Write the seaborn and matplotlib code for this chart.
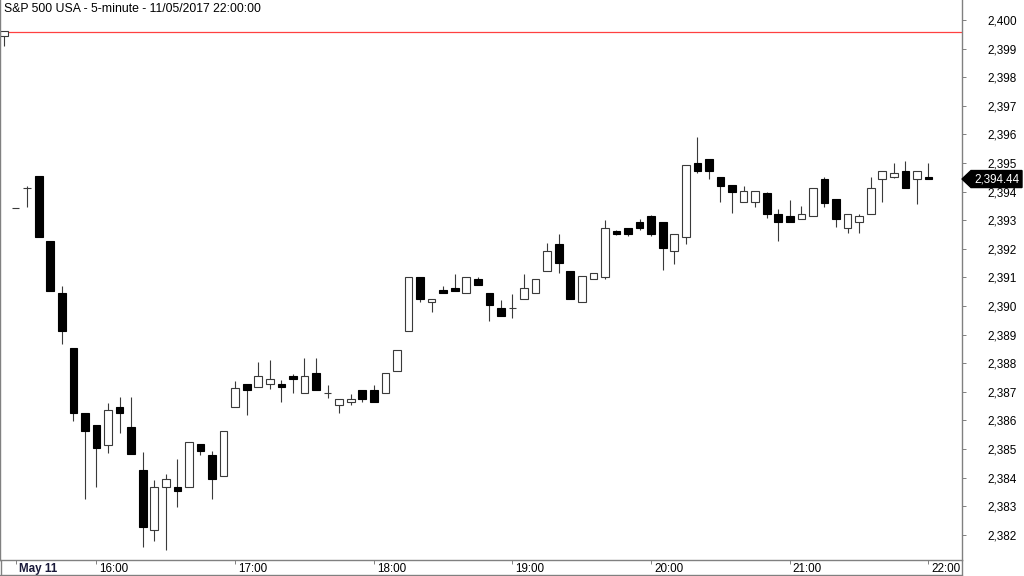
import matplotlib
matplotlib.use("Agg")
import numpy as np
import pandas as pd
import matplotlib.pyplot as plt
import matplotlib.transforms as mtransforms
from matplotlib.lines import Line2D
from matplotlib.patches import Polygon
from matplotlib.ticker import FuncFormatter
import seaborn as sns

# ---- data (5-minute bars, index 0..80) ----
opens = [2399.45, 2393.44, 2394.12, 2394.55, 2392.26, 2390.44, 2388.54, 2386.27, 2385.85, 2385.14,
         2386.48, 2385.76, 2384.27, 2382.17, 2383.66, 2383.66, 2383.66, 2385.16, 2384.78, 2384.06,
         2386.48, 2387.26, 2387.16, 2387.26, 2387.26, 2387.55, 2386.95, 2387.65, 2386.95, 2386.53,
         2386.63, 2387.06, 2387.06, 2386.95, 2387.74, 2389.14, 2391.03, 2390.13, 2390.56, 2390.63,
         2390.44, 2390.93, 2390.44, 2389.94, 2389.92, 2390.23, 2390.44, 2391.23, 2392.16, 2391.24,
         2390.13, 2390.93, 2391.03, 2392.62, 2392.73, 2392.95, 2393.16, 2392.95, 2391.93, 2392.42,
         2395.01, 2395.13, 2394.52, 2394.22, 2393.63, 2393.63, 2393.94, 2393.21, 2393.15, 2393.03,
         2393.14, 2394.43, 2393.73, 2392.72, 2392.94, 2393.21, 2394.43, 2394.52, 2394.73, 2394.43,
         2394.52]
highs = [2399.60, 2393.44, 2394.19, 2394.55, 2392.26, 2390.70, 2388.54, 2386.27, 2385.85, 2386.62,
         2386.83, 2386.83, 2384.88, 2383.92, 2384.13, 2384.64, 2385.26, 2385.16, 2384.92, 2385.64,
         2387.39, 2387.26, 2388.03, 2388.11, 2387.41, 2387.62, 2388.20, 2388.20, 2387.24, 2386.74,
         2386.91, 2387.06, 2387.24, 2387.65, 2388.46, 2391.03, 2391.03, 2390.23, 2390.70, 2391.12,
         2391.03, 2391.00, 2390.44, 2390.21, 2390.41, 2391.12, 2390.93, 2392.21, 2392.51, 2391.24,
         2391.04, 2391.14, 2393.00, 2392.65, 2392.73, 2393.03, 2393.19, 2392.95, 2392.53, 2394.92,
         2395.90, 2395.13, 2394.52, 2394.22, 2394.20, 2394.02, 2394.00, 2393.38, 2393.71, 2393.50,
         2394.12, 2394.50, 2393.73, 2393.21, 2393.21, 2394.50, 2394.73, 2394.99, 2395.08, 2394.73,
         2394.99]
lows = [2399.10, 2393.44, 2393.45, 2392.40, 2390.53, 2388.67, 2385.97, 2383.26, 2383.68, 2384.87,
        2385.57, 2384.82, 2381.56, 2381.79, 2381.47, 2382.98, 2383.66, 2384.80, 2383.26, 2384.06,
        2386.48, 2386.19, 2387.16, 2387.09, 2386.65, 2386.97, 2386.95, 2387.06, 2386.77, 2386.27,
        2386.55, 2386.65, 2386.63, 2386.95, 2387.74, 2389.14, 2390.15, 2389.78, 2390.44, 2390.53,
        2390.44, 2390.72, 2389.49, 2389.65, 2389.57, 2390.23, 2390.44, 2391.23, 2391.17, 2390.23,
        2390.13, 2390.93, 2390.95, 2392.47, 2392.45, 2392.66, 2392.45, 2391.26, 2391.47, 2392.17,
        2394.66, 2394.45, 2393.65, 2393.24, 2393.63, 2393.45, 2393.07, 2392.28, 2392.94, 2393.03,
        2393.14, 2393.45, 2392.75, 2392.54, 2392.54, 2393.21, 2393.65, 2394.47, 2394.12, 2393.56,
        2394.44]
closes = [2399.60, 2393.44, 2394.12, 2392.40, 2390.53, 2389.12, 2386.25, 2385.62, 2385.03, 2386.36,
          2386.25, 2384.82, 2382.26, 2383.66, 2383.94, 2383.54, 2385.26, 2384.94, 2383.94, 2385.64,
          2387.14, 2387.06, 2387.55, 2387.44, 2387.16, 2387.44, 2387.55, 2387.06, 2386.95, 2386.74,
          2386.74, 2386.74, 2386.63, 2387.65, 2388.46, 2391.03, 2390.23, 2390.23, 2390.44, 2390.53,
          2391.03, 2390.72, 2390.02, 2389.65, 2389.92, 2390.62, 2390.93, 2391.93, 2391.52, 2390.23,
          2391.04, 2391.14, 2392.72, 2392.52, 2392.52, 2392.72, 2392.51, 2392.04, 2392.53, 2394.92,
          2394.73, 2394.73, 2394.21, 2394.00, 2394.02, 2394.02, 2393.21, 2392.94, 2392.94, 2393.21,
          2394.12, 2393.61, 2393.03, 2393.21, 2393.15, 2394.12, 2394.73, 2394.64, 2394.12, 2394.73,
          2394.44]
tick_pos = [1, 8, 20, 32, 44, 56, 68, 80]
tick_labels = ["May 11", "16:00", "17:00", "18:00", "19:00", "20:00", "21:00", "22:00"]
y_ticks = list(range(2382, 2401))
ref_level = 2399.58
last_price = 2394.44
title = "S&P 500 USA - 5-minute - 11/05/2017 22:00:00"

# ---- style ----
sns.set_theme(style="white")
plt.rcParams['font.family'] = ['Liberation Sans', 'DejaVu Sans']

W, H = 1024, 576
fig = plt.figure(figsize=(W / 100, H / 100), dpi=100)
fig.patch.set_facecolor('white')
ax = fig.add_axes([0, 16 / H, 962 / W, 1 - 16 / H])
ax.set_facecolor('white')

df = pd.DataFrame(dict(i=np.arange(len(opens)), o=opens, h=highs, l=lows, c=closes))
up = df.c >= df.o

ax.axhline(ref_level, color='#ff4040', lw=0.9, zorder=0)
ax.vlines(df.i, df.l, df.h, color='#3a3a3a', lw=0.8, zorder=1)
ax.bar(df.i[up], (df.c - df.o)[up], bottom=df.o[up], width=0.66,
       facecolor='white', edgecolor='#3a3a3a', lw=0.8, zorder=2)
ax.bar(df.i[~up], (df.o - df.c)[~up], bottom=df.c[~up], width=0.66,
       facecolor='black', edgecolor='black', lw=0.8, zorder=2)

ymin, ymax = 2381.12, 2400.70
ax.set_xlim(-0.35, 82.9)
ax.set_ylim(ymin, ymax)

# y axis on the right
ax.yaxis.tick_right()
ax.set_yticks(y_ticks)
ax.yaxis.set_major_formatter(FuncFormatter(lambda v, p: f"{v:,.0f}"))
ax.tick_params(axis='y', right=True, left=False, length=3, width=0.7, color='#808080',
               pad=15, labelsize=8.5, labelcolor='black', direction='out')

# x axis
ax.set_xticks(tick_pos)
ax.set_xticklabels(tick_labels)
ax.tick_params(axis='x', bottom=True, length=3, width=0.7, color='#808080',
               pad=-0.5, labelsize=8.4, labelcolor='black', direction='out')
off = mtransforms.ScaledTranslation(3 / 100, 0, fig.dpi_scale_trans)
for k, lbl in enumerate(ax.get_xticklabels()):
    lbl.set_horizontalalignment('left')
    lbl.set_transform(lbl.get_transform() + off)
    if k == 0:
        lbl.set_fontweight('bold')
        lbl.set_color('#1a1a3a')

for s in ['left', 'right', 'bottom']:
    ax.spines[s].set_color('#808080')
    ax.spines[s].set_linewidth(1.0)
ax.spines['top'].set_visible(False)
ax.grid(False)

# frame extension lines of the time band
fig.add_artist(Line2D([0, 962 / W], [1.5 / H, 1.5 / H], transform=fig.transFigure, color='#808080', lw=1))
fig.add_artist(Line2D([0.5 / W, 0.5 / W], [0, 16 / H], transform=fig.transFigure, color='#808080', lw=1))
fig.add_artist(Line2D([962 / W, 962 / W], [0, 16 / H], transform=fig.transFigure, color='#808080', lw=1))

# title
fig.text(4 / W, 1 - 8.5 / H, title, ha='left', va='center', fontsize=8.8, color='black')

# last price tag
trans = mtransforms.blended_transform_factory(fig.transFigure, ax.transData)
hh = 8.5 * (ymax - ymin) / 560
tag = Polygon([(962 / W, last_price), (971 / W, last_price + hh), (1022 / W, last_price + hh),
               (1022 / W, last_price - hh), (971 / W, last_price - hh)],
              closed=True, transform=trans, facecolor='black', edgecolor='black', clip_on=False, zorder=5)
fig.add_artist(tag)
fig.text(974 / W, last_price, f"{last_price:,.2f}", transform=trans, ha='left', va='center',
         fontsize=8.4, color='white', zorder=6)

fig.savefig("out.png", dpi=100, facecolor='white')
